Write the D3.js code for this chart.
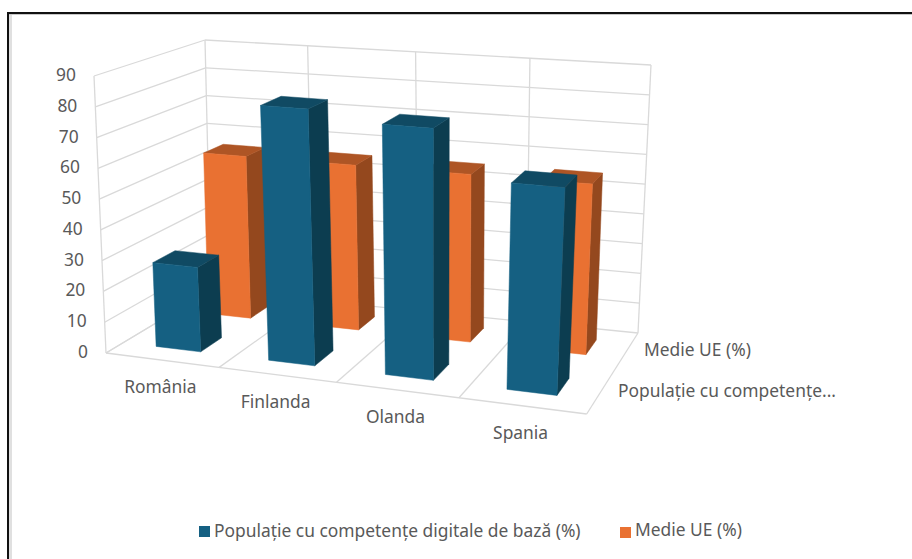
<!DOCTYPE html>
<html>
<head>
<meta charset="utf-8">
<script src="https://cdn.jsdelivr.net/npm/d3@7"></script>
<style>
body { margin: 0; background: #fff; }
text { font-family: "Noto Sans", sans-serif; font-size: 17.4px; fill: #595959; }
</style>
</head>
<body>
<svg id="chart" width="912" height="559"></svg>
<script>
const categories = ["România", "Finlanda", "Olanda", "Spania"];
const seriesNames = ["Populație cu competențe digitale de bază (%)", "Medie UE (%)"];
const depthLabels = ["Populație cu competențe...", "Medie UE (%)"];
const populationValues = [27.5, 82, 79, 64];
const euValues = [55.5, 55.5, 55.5, 55.5];
const yTicks = [0, 10, 20, 30, 40, 50, 60, 70, 80, 90];

const blueFaces = { front: "#156082", side: "#0c3d50", top: "#104a63" };
const orangeFaces = { front: "#e97132", side: "#94481e", top: "#ae5525" };

// corners of the plot box on screen: front-left, front-right, back-right, back-left
const floorCorners = [[106, 353], [586.7, 414], [638, 333], [211, 290]];
const roofCorners = [[94, 76], [603, 115], [651, 65], [205, 40]];

function quadMap(q) {
    let dx1 = q[1][0] - q[2][0], dx2 = q[3][0] - q[2][0], sx = q[0][0] - q[1][0] + q[2][0] - q[3][0],
        dy1 = q[1][1] - q[2][1], dy2 = q[3][1] - q[2][1], sy = q[0][1] - q[1][1] + q[2][1] - q[3][1],
        den = dx1 * dy2 - dx2 * dy1,
        g = (sx * dy2 - dx2 * sy) / den,
        h = (dx1 * sy - sx * dy1) / den,
        a = q[1][0] - q[0][0] + g * q[1][0], b = q[3][0] - q[0][0] + h * q[3][0],
        d = q[1][1] - q[0][1] + g * q[1][1], e = q[3][1] - q[0][1] + h * q[3][1];
    return (u, w) => {
        let k = g * u + h * w + 1;
        return [(a * u + b * w + q[0][0]) / k, (d * u + e * w + q[0][1]) / k];
    };
}

const floorMap = quadMap(floorCorners), roofMap = quadMap(roofCorners);
const xScale = d3.scaleBand().domain(categories).range([0, 1]).paddingInner(0.6).paddingOuter(0.3);
const zScale = d3.scaleBand().domain(seriesNames).range([0, 1]).paddingInner(0.6).paddingOuter(0.3);
const yScale = d3.scaleLinear().domain([0, 90]).range([0, 1]);
// the corner fit overdoes the perspective along the front, this evens the categories out
const uWarp = d3.scaleLinear().domain([0, 0.25, 0.5, 0.75, 1]).range([0, 0.265, 0.519, 0.764, 1]);

function project(u, w, value) {
    let t = yScale(value), m = uWarp(u), p0 = floorMap(m, w), p1 = roofMap(m, w);
    return [p0[0] + (p1[0] - p0[0]) * t, p0[1] + (p1[1] - p0[1]) * t];
}

const svg = d3.select("#chart");
const line = d3.line();

// frame of the screenshot
svg.append("rect").attr("x", 9).attr("y", 14).attr("width", 3).attr("height", 545).style("fill", "#e0e0e0");
svg.append("rect").attr("x", 9).attr("y", 14).attr("width", 903).attr("height", 1).style("fill", "#c8c8c8");
svg.append("path").attr("d", "M8 559V13H912").style("fill", "none").style("stroke", "#111").style("stroke-width", 2);

// walls and floor
let gridLines = [];
for (let v of yTicks) {
    gridLines.push([project(0, 0, v), project(0, 1, v)]);
    gridLines.push([project(0, 1, v), project(1, 1, v)]);
}
let uLines = [0, 0.25, 0.5, 0.75, 1];
for (let u of uLines) {
    gridLines.push([project(u, 1, 0), project(u, 1, 90)]);
    gridLines.push([project(u, 0, 0), project(u, 1, 0)]);
}
gridLines.push([project(0, 0, 0), project(1, 0, 0)]);
gridLines.push([project(0, 0, 0), project(0, 0, 90)]);

svg.append("g").selectAll("path").data(gridLines).enter().append("path")
    .attr("d", d => line(d)).style("stroke", "#d9d9d9").style("stroke-width", 1.3).style("fill", "none");

function barFaces(value, cat, name, colors) {
    let u0 = xScale(cat), u1 = u0 + xScale.bandwidth(),
        w0 = zScale(name), w1 = w0 + zScale.bandwidth();
    return [
        { pts: [project(u1, w0, 0), project(u1, w1, 0), project(u1, w1, value), project(u1, w0, value)], fill: colors.side },
        { pts: [project(u0, w0, value), project(u1, w0, value), project(u1, w1, value), project(u0, w1, value)], fill: colors.top },
        { pts: [project(u0, w0, 0), project(u1, w0, 0), project(u1, w0, value), project(u0, w0, value)], fill: colors.front }
    ];
}

// back row first so the front row covers it
function drawRow(values, name, colors) {
    let g = svg.append("g");
    g.selectAll("g").data(values).enter().append("g").each(function(v, i) {
        d3.select(this).selectAll("path").data(barFaces(v, categories[i], name, colors)).enter().append("path")
            .attr("d", f => line(f.pts) + "Z").style("fill", f => f.fill)
            .style("stroke", f => f.fill).style("stroke-width", 0.5);
    });
}
drawRow(euValues, seriesNames[1], orangeFaces);
drawRow(populationValues, seriesNames[0], blueFaces);

// axis texts
svg.append("g").selectAll("text").data(yTicks).enter().append("text")
    .attr("x", d => project(0, 0, d)[0] - 18).attr("y", d => project(0, 0, d)[1] + 5)
    .attr("text-anchor", "end").text(d => d);

svg.append("g").selectAll("text").data(categories).enter().append("text")
    .attr("x", d => project(xScale(d) + xScale.bandwidth() / 2, 0, 0)[0] - 1)
    .attr("y", d => project(xScale(d) + xScale.bandwidth() / 2, 0, 0)[1] + 33)
    .attr("text-anchor", "middle").text(d => d);

svg.append("g").selectAll("text").data(depthLabels).enter().append("text")
    .attr("x", (d, i) => i == 0 ? 618 : 644)
    .attr("y", (d, i) => project(1, zScale(seriesNames[i]) + zScale.bandwidth() / 2, 0)[1] + 5.5)
    .text(d => d);

// legend
let legendX = [199, 620], legendY = [526, 527], legendTextX = [214, 635];
let legend = svg.append("g").selectAll("g").data(seriesNames).enter().append("g");
legend.append("rect").attr("x", (d, i) => legendX[i]).attr("y", (d, i) => legendY[i])
    .attr("width", 11).attr("height", 11).style("fill", (d, i) => i == 0 ? blueFaces.front : orangeFaces.front);
legend.append("text").attr("x", (d, i) => legendTextX[i]).attr("y", (d, i) => i == 0 ? 537 : 536).text(d => d);
</script>
</body>
</html>
